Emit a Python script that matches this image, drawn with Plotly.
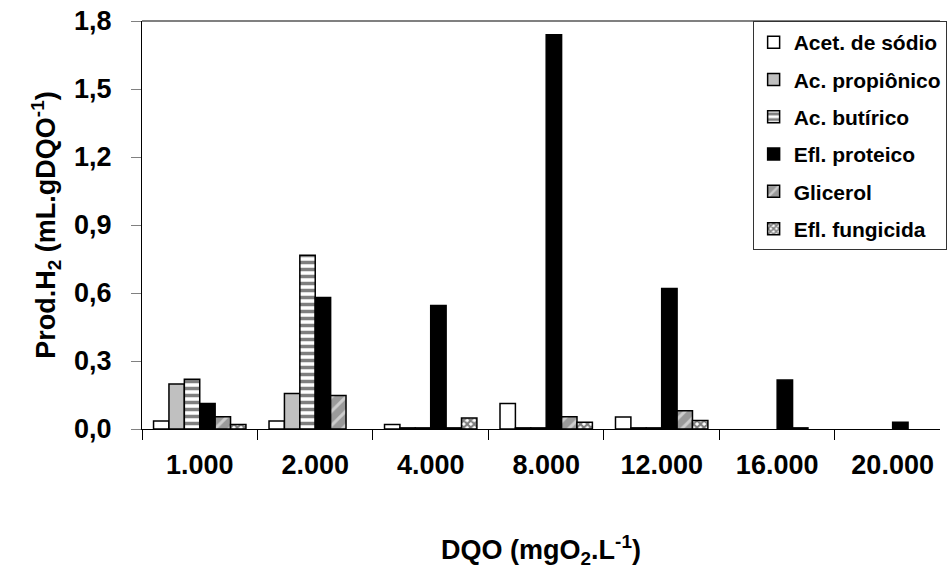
import plotly.graph_objects as go

categories = ["1.000", "2.000", "4.000", "8.000", "12.000", "16.000", "20.000"]

series_names = ["Acet. de sódio", "Ac. propiônico", "Ac. butírico",
                "Efl. proteico", "Glicerol", "Efl. fungicida"]

acet_sodio     = [0.035, 0.035, 0.020, 0.113, 0.053, None,  None]
ac_propionico  = [0.198, 0.157, 0.005, 0.005, 0.005, None,  None]
ac_butirico    = [0.219, 0.767, 0.005, 0.005, 0.005, None,  None]
efl_proteico   = [0.113, 0.580, 0.545, 1.739, 0.620, 0.216, 0.030]
glicerol       = [0.054, 0.148, 0.005, 0.054, 0.080, 0.005, None]
efl_fungicida  = [0.020, None,  0.048, 0.030, 0.037, None,  None]

values = [acet_sodio, ac_propionico, ac_butirico, efl_proteico, glicerol, efl_fungicida]

styles = [
    dict(color="white", pattern=None),
    dict(color="#c0c0c0", pattern=None),
    dict(color="white", pattern=dict(shape="-", fgcolor="black", bgcolor="white",
                                     size=7, solidity=0.5, fillmode="overlay")),
    dict(color="black", pattern=None),
    dict(color="#9a9a9a", pattern=dict(shape="/", fgcolor="white", bgcolor="#9a9a9a",
                                       size=10, solidity=0.3, fillmode="overlay")),
    dict(color="white", pattern=dict(shape="x", fgcolor="black", bgcolor="white",
                                     size=5, solidity=0.65, fillmode="overlay")),
]

FONT = "Liberation Sans, Arial, sans-serif"

fig = go.Figure()
for i, (name, vals, st) in enumerate(zip(series_names, values, styles)):
    marker = dict(color=st["color"], line=dict(color="black", width=1.5))
    if st["pattern"] is not None:
        marker["pattern"] = st["pattern"]
    fig.add_trace(go.Bar(
        x=categories, y=vals, name=name, marker=marker,
        legendgroup=f"g{i}",
    ))

fig.update_layout(
    width=947, height=569,
    margin=dict(l=142, r=0, t=21, b=140),
    paper_bgcolor="white", plot_bgcolor="white",
    barmode="group", bargap=0.2, bargroupgap=0.0,
    separators=",.",
    font=dict(family=FONT, color="black"),
    showlegend=True,
    legend=dict(
        x=0.7652, y=1.0, xanchor="left", yanchor="top",
        bgcolor="white", bordercolor="#333333", borderwidth=1,
        font=dict(family=FONT, size=21, color="black", weight="bold"),
        tracegroupgap=7,
    ),
)

fig.update_xaxes(
    type="category", range=[-0.5, 6.41],
    showline=True, linecolor="black", linewidth=1,
    ticks="outside", tickson="boundaries", ticklen=10, tickcolor="black",
    tickfont=dict(family=FONT, size=27, color="black", weight="bold"),
    ticklabelstandoff=12,
    showgrid=False, zeroline=False,
    title=dict(text="DQO (mgO<sub>2</sub>.L<sup>-1</sup>)",
               font=dict(family=FONT, size=27, color="black", weight="bold"),
               standoff=64),
)

fig.update_yaxes(
    range=[0, 1.8], dtick=0.3, tick0=0, tickformat=".1f",
    showline=True, linecolor="black", linewidth=1,
    ticks="outside", ticklen=10, tickcolor="#808080",
    tickfont=dict(family=FONT, size=27, color="black", weight="bold"),
    ticklabelstandoff=14,
    showgrid=False, zeroline=False,
    title=dict(text="Prod.H<sub>2</sub> (mL.gDQO<sup>-1</sup>)",
               font=dict(family=FONT, size=27, color="black", weight="bold"),
               standoff=10),
)

fig.add_shape(type="line", xref="paper", yref="paper", x0=0, x1=1, y0=1, y1=1,
              line=dict(color="#808080", width=2), layer="below")

fig.write_html("out.html")
